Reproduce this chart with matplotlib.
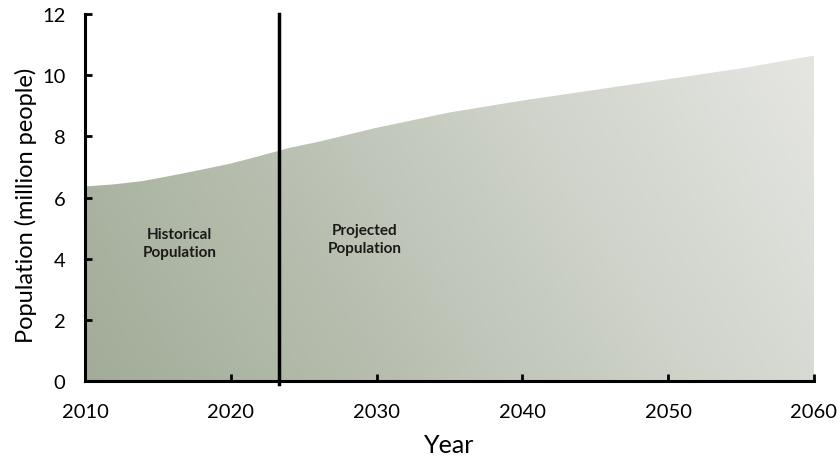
import numpy as np
import matplotlib
matplotlib.use("Agg")
import matplotlib.pyplot as plt
from matplotlib.colors import LinearSegmentedColormap

plt.rcParams['font.family'] = ['Lato', 'DejaVu Sans']

# Population (million people) by year
years = [2010, 2012, 2014, 2016, 2018, 2020, 2022, 2024, 2026, 2028,
         2030, 2035, 2040, 2045, 2050, 2055, 2060]
population = [6.36, 6.43, 6.54, 6.72, 6.91, 7.11, 7.36, 7.62, 7.82, 8.05,
              8.28, 8.78, 9.17, 9.52, 9.87, 10.22, 10.64]
split_year = 2023.3
x_ticks = [2010, 2020, 2030, 2040, 2050, 2060]
y_ticks = [0, 2, 4, 6, 8, 10, 12]

fig = plt.figure(figsize=(8.38, 4.60), dpi=100)
ax = fig.add_axes([85 / 838, (460 - 382) / 460, (814 - 85) / 838, (382 - 15) / 460])

ax.set_xlim(2010, 2060)
ax.set_ylim(0, 12)

# Gradient fill: dark olive-grey lower left to pale grey upper right
cmap = LinearSegmentedColormap.from_list(
    "pop", ["#a2ac98", "#b7beaf", "#cfd3ca", "#e4e5e1"])
nx, ny = 400, 200
gx = np.linspace(0, 1, nx)
gy = np.linspace(0, 1, ny)
XX, YY = np.meshgrid(gx, gy)
shade = np.clip(0.8 * XX + 0.25 * YY, 0, 1)
img = ax.imshow(shade, cmap=cmap, vmin=0, vmax=1, origin="lower",
                extent=[2010, 2060, 0, 12], aspect="auto", zorder=1,
                interpolation="bilinear")
poly = ax.fill_between(years, population, 0, color="none", zorder=1)
clip_path = poly.get_paths()[0]
img.set_clip_path(clip_path, transform=ax.transData)

ax.axvline(split_year, ymin=-0.008, ymax=1.0, color="black", lw=2.5, zorder=3,
           clip_on=False)

ax.text(2016.5, 4.5, "Historical\nPopulation", ha="center", va="center",
        fontsize=11, fontweight="bold", color="#1a1a1a", linespacing=1.35)
ax.text(2029.2, 4.65, "Projected\nPopulation", ha="center", va="center",
        fontsize=11, fontweight="bold", color="#1a1a1a", linespacing=1.35)

for side in ["top", "right"]:
    ax.spines[side].set_visible(False)
for side in ["left", "bottom"]:
    ax.spines[side].set_linewidth(2.2)
    ax.spines[side].set_zorder(4)

ax.set_xticks(x_ticks)
ax.set_yticks(y_ticks)
ax.tick_params(axis="both", direction="in", length=5, width=2,
               labelsize=14.5, colors="black")
ax.tick_params(axis="x", pad=16)
ax.tick_params(axis="y", pad=14)

ax.set_xlabel("Year", fontsize=18, labelpad=9)
ax.set_ylabel("Population (million people)", fontsize=17)
ax.yaxis.set_label_coords(-0.066, 0.48)

fig.savefig("out.png", dpi=100)
